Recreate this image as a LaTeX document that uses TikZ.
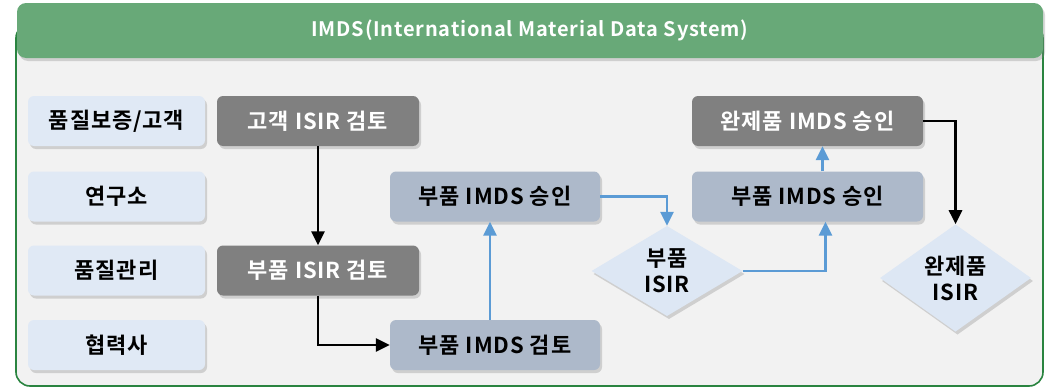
\documentclass[tikz,border=0pt]{standalone}
\usepackage{fontspec}
\setmainfont{Noto Sans CJK KR}[BoldFont={Noto Sans CJK KR Bold},LetterSpace=4]
\usetikzlibrary{shapes.geometric,shadows,arrows.meta}
\definecolor{hdrgreen}{HTML}{68A978}
\definecolor{framegreen}{HTML}{2A8440}
\definecolor{framefill}{HTML}{F2F2F2}
\definecolor{deptblue}{HTML}{E0E9F5}
\definecolor{darkgray}{HTML}{808080}
\definecolor{steelgray}{HTML}{ADB9CA}
\definecolor{diafill}{HTML}{DDE7F4}
\definecolor{flowblue}{HTML}{5B9BD5}

\begin{document}
\begin{tikzpicture}[x=1pt,y=-1pt,>={Triangle[length=14pt,width=13pt]},font=\fontsize{22}{26}\selectfont\bfseries,
shade/.style={drop shadow={opacity=0.3,shadow xshift=2pt,shadow yshift=-3pt}},
dept/.style={shade,rounded corners=6pt,fill=deptblue,minimum width=177pt,minimum height=50pt,inner sep=0pt},
task/.style={shade,rounded corners=6pt,fill=darkgray,text=white,minimum height=50pt,inner sep=0pt},
imds/.style={shade,rounded corners=6pt,fill=steelgray,minimum height=50pt,inner sep=0pt},
check/.style={shade,diamond,fill=diafill,minimum width=151pt,minimum height=81pt,inner sep=0pt,align=center},
flow/.style={->,line width=2.8pt,black},
blueflow/.style={->,line width=2.6pt,flowblue}]
\useasboundingbox (0,0) rectangle (1061,388);
\draw[framegreen,line width=1.6pt,fill=framefill,rounded corners=14pt] (16,24) rectangle (1043,386);
\node[shade,fill=hdrgreen,rounded corners=9pt,minimum width=1026pt,minimum height=55pt,text=white,font=\fontsize{20}{24}\selectfont\bfseries] (hdr) at (530,30.5) {IMDS(International Material Data System)};
\node[dept] (qa) at (116.5,121) {품질보증/고객};
\node[dept] (lab) at (116.5,196.5) {연구소};
\node[dept] (qc) at (116.5,270.5) {품질관리};
\node[dept] (sup) at (116.5,345) {협력사};
\node[task,minimum width=202pt] (cust) at (318,121) {고객 ISIR 검토};
\node[task,minimum width=202pt] (pisir) at (318,270.5) {부품 ISIR 검토};
\node[imds,minimum width=210pt] (papp) at (495,196.5) {부품 IMDS 승인};
\node[imds,minimum width=210pt] (prev) at (495,345) {부품 IMDS 검토};
\node[task,minimum width=231pt] (fapp) at (807.5,121) {완제품 IMDS 승인};
\node[imds,minimum width=231pt] (papp2) at (807.5,196.5) {부품 IMDS 승인};
\node[check] (pchk) at (667,271) {부품\\ISIR};
\node[check] (fchk) at (955.5,278) {완제품\\ISIR};
\draw[flow] (cust) -- (pisir);
\draw[flow] (pisir.south) |- (prev.west);
\draw[blueflow] ([xshift=-5pt]prev.north) -- ([xshift=-5pt]papp.south);
\draw[blueflow] (papp.east) -| (pchk.north);
\draw[blueflow] (pchk.east) -| ([xshift=18pt]papp2.south);
\draw[blueflow] ([xshift=15pt]papp2.north) -- ([xshift=15pt]fapp.south);
\draw[flow] (fapp.east) -| (fchk.north);
\end{tikzpicture}
\end{document}
